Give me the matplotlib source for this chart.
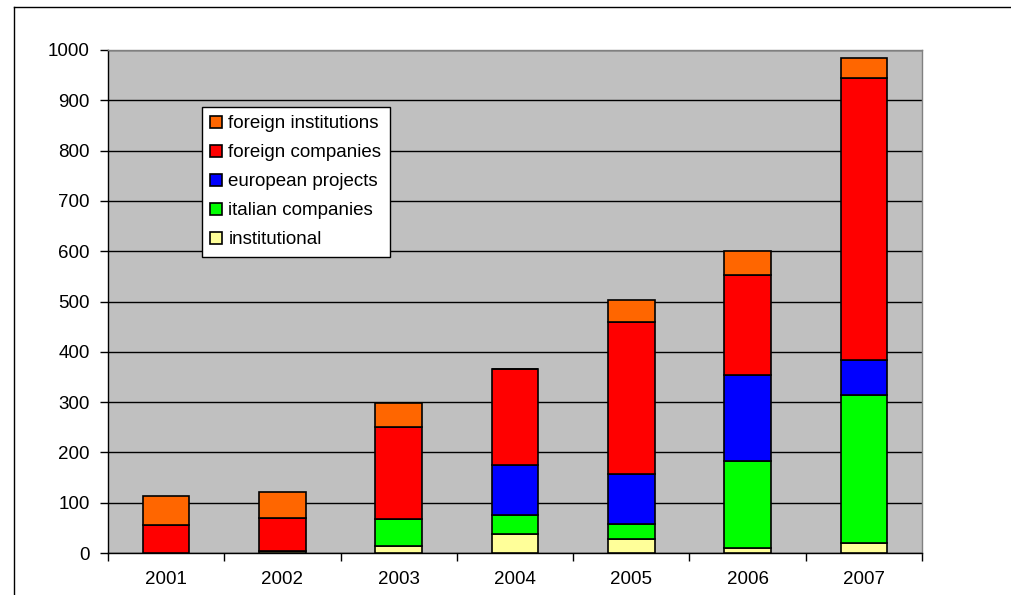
import numpy as np
import matplotlib.pyplot as plt
from matplotlib.lines import Line2D

plt.rcParams['font.family'] = ['Liberation Sans', 'DejaVu Sans']

years = ['2001', '2002', '2003', '2004', '2005', '2006', '2007']
institutional = [0, 4, 13, 38, 28, 10, 20]
italian_companies = [0, 0, 55, 37, 30, 173, 295]
european_projects = [0, 0, 0, 100, 100, 170, 68]
foreign_companies = [56, 66, 183, 191, 301, 199, 561]
foreign_institutions = [57, 51, 47, 0, 43, 48, 40]

series = [
    ('institutional', institutional, '#FFFF99'),
    ('italian companies', italian_companies, '#00FF00'),
    ('european projects', european_projects, '#0000FF'),
    ('foreign companies', foreign_companies, '#FF0000'),
    ('foreign institutions', foreign_institutions, '#FF6600'),
]

fig = plt.figure(figsize=(10.11, 5.95), dpi=100)
ax = fig.add_axes([108 / 1011, 42 / 595, 814 / 1011, 503 / 595])
ax.set_facecolor('#C0C0C0')

x = np.arange(len(years))
bottom = np.zeros(len(years))
handles = []
for name, vals, col in series:
    vals = np.array(vals, dtype=float)
    b = ax.bar(x, vals, 0.4, bottom=bottom, color=col, edgecolor='black',
               linewidth=1.2, label=name, zorder=3)
    handles.append(b)
    bottom += vals

ax.set_xlim(-0.5, len(years) - 0.5)
ax.set_ylim(0, 1000)
ax.set_yticks(np.arange(0, 1001, 100))
ax.yaxis.grid(True, color='black', linewidth=1.0, zorder=1)
ax.set_axisbelow(True)

ax.set_xticks(x)
ax.set_xticklabels(years)
ax.set_xticks(np.arange(-0.5, len(years), 1), minor=True)
ax.tick_params(axis='x', which='major', length=0, pad=13, labelsize=13.5)
ax.tick_params(axis='x', which='minor', length=6, width=1, color='black')
ax.tick_params(axis='y', length=6, width=1, pad=7, labelsize=13.5)

for s in ['left', 'bottom']:
    ax.spines[s].set_color('black')
    ax.spines[s].set_linewidth(1.0)
for s in ['right', 'top']:
    ax.spines[s].set_color('#808080')
    ax.spines[s].set_linewidth(1.0)

leg = ax.legend(handles[::-1], [s[0] for s in series][::-1],
                loc='upper left', bbox_to_anchor=(94 / 814, 446 / 503),
                fontsize=13.5, frameon=True, fancybox=False,
                edgecolor='black', facecolor='white', framealpha=1,
                handlelength=0.6, handleheight=0.6, handletextpad=0.35,
                labelspacing=0.64, borderpad=0.45, borderaxespad=0)
leg.get_frame().set_linewidth(1.0)

# outer chart frame
fig.add_artist(Line2D([14 / 1011, 14 / 1011], [0, 1 - 7 / 595],
                      transform=fig.transFigure, color='black', linewidth=1))
fig.add_artist(Line2D([14 / 1011, 1], [1 - 7 / 595, 1 - 7 / 595],
                      transform=fig.transFigure, color='black', linewidth=1))

fig.savefig('out.png', dpi=100)
plt.close(fig)
